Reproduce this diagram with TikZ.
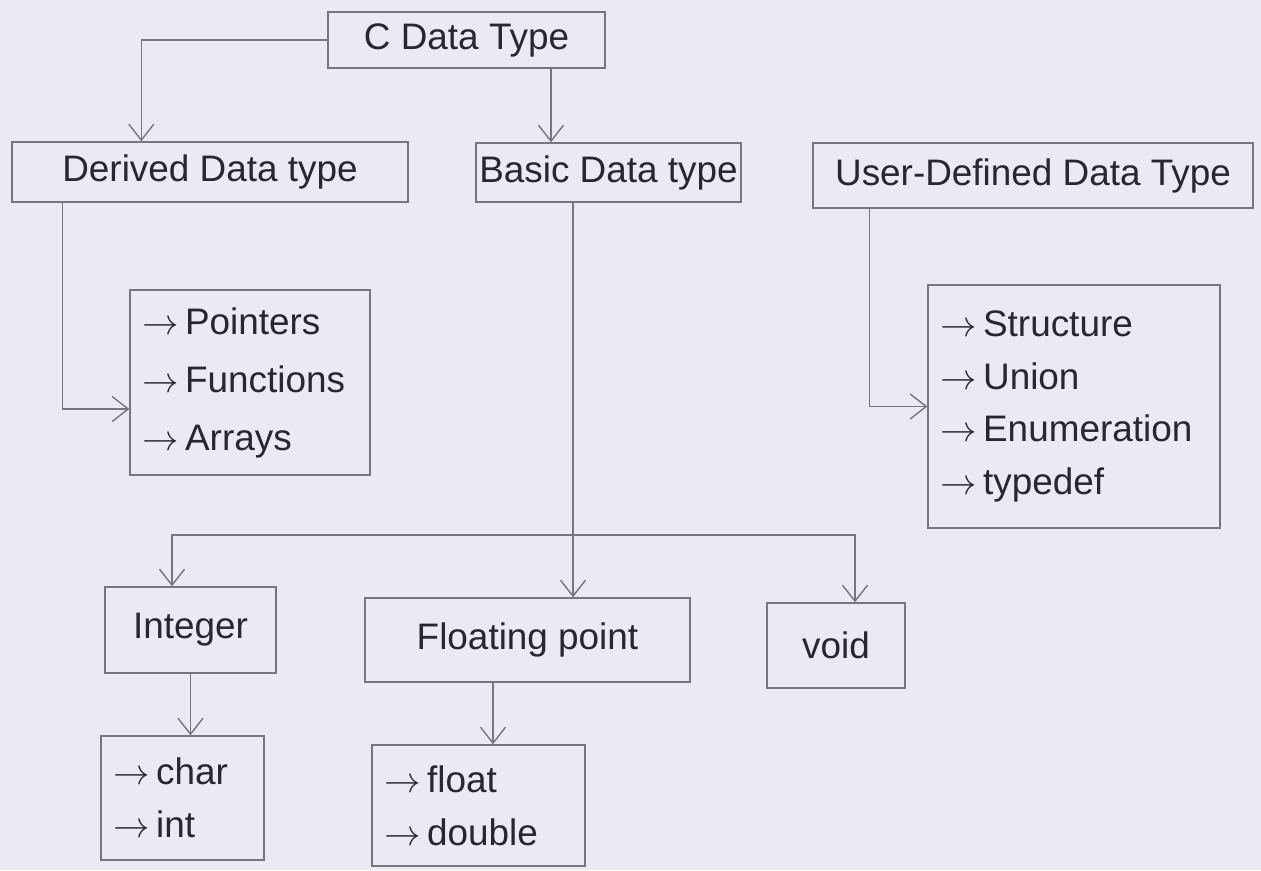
\documentclass[tikz,border=0pt]{standalone}
\usepackage{fontspec}
\setmainfont{Liberation Sans}
\usetikzlibrary{arrows.meta}
\definecolor{paper}{RGB}{236,233,245}
\definecolor{pencil}{RGB}{118,118,124}
\definecolor{ink}{RGB}{40,38,52}
\tikzset{
  box/.style={draw=pencil, line width=0.8pt, text=ink, inner sep=0pt,
    font=\fontsize{21}{30}\selectfont},
  listbox/.style={box, align=left, inner xsep=0.25cm},
  arr/.style={draw=pencil, line width=0.8pt,
    -{Straight Barb[length=3.2mm,width=5mm,line width=0.8pt]}}
}
\newcommand{\itm}{$\rightarrow$\,}
\begin{document}
\begin{tikzpicture}[x=0.02cm,y=-0.02cm]
\fill[paper] (0,0) rectangle (1261,870);
\useasboundingbox (0,0) rectangle (1261,870);

\node[box, minimum width=5.54cm, minimum height=1.12cm] (cdt) at (466.5,40) {C Data Type};
\node[box, minimum width=7.92cm, minimum height=1.2cm] (derived) at (210,172) {Derived Data type};
\node[box, minimum width=5.3cm, minimum height=1.18cm] (basic) at (608.5,172.5) {Basic Data type};
\node[box, minimum width=8.8cm, minimum height=1.3cm] (user) at (1033,175.5) {User-Defined Data Type};

\node[listbox, text width=4.3cm, minimum height=3.7cm] (derlist) at (250,382.5)
 {\itm Pointers\\[3pt] \itm Functions\\[3pt] \itm Arrays};
\node[listbox, text width=5.34cm, minimum height=4.86cm] (userlist) at (1074,406.5)
 {\itm Structure\\ \itm Union\\ \itm Enumeration\\ \itm typedef};

\node[box, minimum width=3.42cm, minimum height=1.72cm] (integer) at (190.5,630) {Integer};
\node[box, minimum width=6.5cm, minimum height=1.68cm] (floating) at (527.5,640) {Floating point};
\node[box, minimum width=2.76cm, minimum height=1.7cm] (void) at (836,645.5) {void};

\node[listbox, text width=2.76cm, minimum height=2.48cm] (charlist) at (182.5,798)
 {\itm char\\ \itm int};
\node[listbox, text width=3.76cm, minimum height=2.42cm] (floatlist) at (478.5,805.5)
 {\itm float\\ \itm double};

\draw[arr] (cdt.west) -| ([xshift=2.6cm]derived.north west);
\draw[arr] ([xshift=1.69cm]cdt.south) -- ([xshift=1.69cm]cdt.south |- basic.north);

\draw[arr] ([xshift=1.02cm]derived.south west) |- ([yshift=-0.53cm]derlist.west);
\draw[arr] ([xshift=1.14cm]user.south west) |- (userlist.west);

\draw[arr] ([xshift=-0.71cm]basic.south) -- ([xshift=-0.71cm]basic.south |- floating.north);
\coordinate (split) at (573,535);
\draw[arr] (split) -| ([xshift=-0.37cm]integer.north);
\draw[arr] (split) -| ([xshift=0.38cm]void.north);

\draw[arr] (integer.south) -- (integer.south |- charlist.north);
\draw[arr] ([xshift=-0.69cm]floating.south) -- ([xshift=-0.69cm]floating.south |- floatlist.north);
\end{tikzpicture}
\end{document}
